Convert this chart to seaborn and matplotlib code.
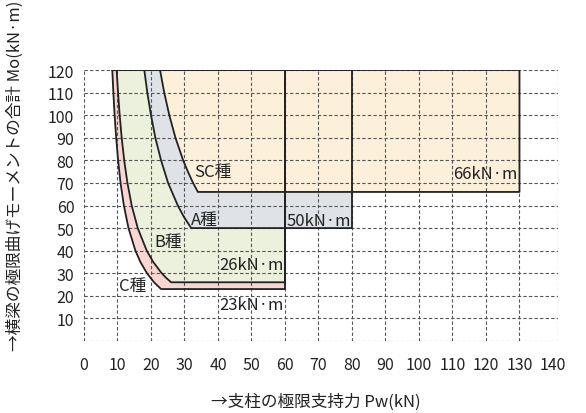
import matplotlib
matplotlib.use("Agg")
import matplotlib.pyplot as plt
import seaborn as sns
import pandas as pd

# ---- data ----
region_names = ["C種", "B種", "A種", "SC種"]
c_pw = [8.45, 8.76, 9.14, 9.6, 10.18, 10.91, 11.9, 13.28, 15.35, 16.83, 18.8, 20.9, 23.0]
c_mo = [120, 110, 100, 90, 80, 70, 60, 50, 40, 35, 30, 26, 23]
b_pw = [9.75, 10.16, 10.65, 11.25, 12.0, 12.96, 14.24, 16.04, 18.73, 20.66, 23.2, 24.5, 26.0]
b_mo = [120, 110, 100, 90, 80, 70, 60, 50, 40, 35, 30, 28, 26]
a_pw = [18.0, 18.9, 20.0, 21.3, 23.0, 25.1, 28.0, 29.8, 32.0]
a_mo = [120, 110, 100, 90, 80, 70, 60, 55, 50]
sc_pw = [22.7, 23.95, 25.46, 27.3, 29.6, 31.0, 32.56, 34.0]
sc_mo = [120, 110, 100, 90, 80, 75, 70, 66]
region_right = [60, 60, 80, 130]
region_floor = [23, 26, 50, 66]
floor_labels = ["23kN·m", "26kN·m", "50kN·m", "66kN·m"]
mo_top = 120
x_ticks = list(range(0, 150, 10))
y_ticks = list(range(10, 130, 10))
x_grid = list(range(0, 140, 10)) + [141.5]
y_grid = list(range(0, 130, 10))

region_colors = ["#f9d6d1", "#ecf1dd", "#dfe3e8", "#fdf0db"]

sns.set_style("white")
plt.rcParams["font.family"] = ["Noto Sans CJK JP", "DejaVu Sans"]

fig = plt.figure(figsize=(5.86, 4.14), dpi=100)
ax = fig.add_axes([84 / 586, 72 / 414, 474 / 586, 271 / 414])

curves = [(c_pw, c_mo), (b_pw, b_mo), (a_pw, a_mo), (sc_pw, sc_mo)]
rows = []
for k, (name, (pw, mo), right, floor) in enumerate(zip(region_names, curves, region_right, region_floor)):
    xs = list(pw) + [right, right, pw[0]]
    ys = list(mo) + [floor, mo_top, mo_top]
    ax.fill(xs, ys, color=region_colors[k], lw=0, zorder=1)
    for i, (x, y) in enumerate(zip(xs, ys)):
        rows.append({"region": name, "order": i, "Pw": x, "Mo": y})

# grid (dashed)
for gx in x_grid:
    ax.axvline(gx, color="#555555", lw=0.8, ls=(0, (3, 2)), zorder=2)
for gy in y_grid:
    ax.axhline(gy, color="#555555", lw=0.8, ls=(0, (3, 2)), zorder=2)

outline = pd.DataFrame(rows)
sns.lineplot(data=outline, x="Pw", y="Mo", units="region", estimator=None,
             sort=False, color="#222222", lw=1.3, ax=ax, zorder=3, legend=False)

# region labels
label_pos = [(10.5, 24.4), (21, 44), (32, 53.8), (33, 75)]
for name, (lx, ly) in zip(region_names, label_pos):
    ax.text(lx, ly, name, ha="left", va="center", fontsize=12, color="#222222", zorder=4)
floor_pos = [(59.5, 16.3), (59.5, 34), (79.7, 53.5), (129.5, 74)]
for lab, (lx, ly) in zip(floor_labels, floor_pos):
    ax.text(lx, ly, lab, ha="right", va="center", fontsize=12, color="#222222", zorder=4)

ax.set_xlim(0, 141.5)
ax.set_ylim(0, 120)
ax.set_xticks(x_ticks)
ax.set_xticklabels([str(t) for t in x_ticks], fontsize=11.5)
ax.set_yticks(y_ticks)
ax.set_yticklabels([str(t) for t in y_ticks], fontsize=11.5)
ax.tick_params(axis="x", length=0, pad=11, colors="#222222")
ax.tick_params(axis="y", length=0, pad=7, colors="#222222")
for s in ax.spines.values():
    s.set_visible(False)
ax.set_xlabel("")
ax.set_ylabel("")

fig.text(15 / 586, 1 - 176 / 414, "→横梁の極限曲げモーメントの合計 Mo(kN·m)",
         rotation=90, ha="center", va="center", fontsize=12, color="#222222")
fig.text(316 / 586, 1 - 402 / 414, "→支柱の極限支持力 Pw(kN)",
         ha="center", va="center", fontsize=12, color="#222222")

fig.savefig("out.png", dpi=100)
